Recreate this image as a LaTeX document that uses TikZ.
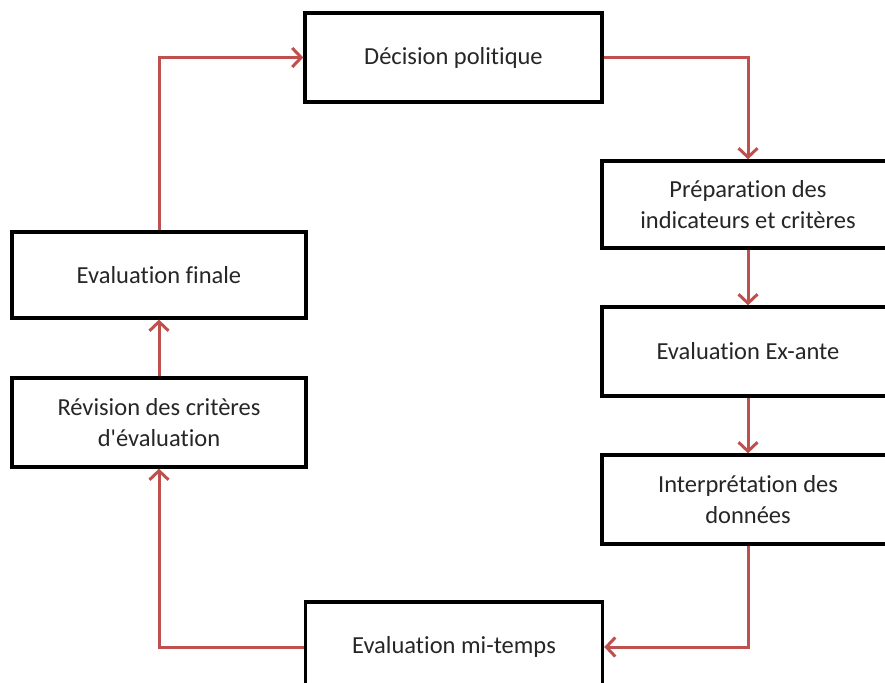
\documentclass[tikz,border=0pt]{standalone}
\usepackage{fontspec}
\setmainfont{Carlito}[Ligatures={TeXOff,CommonOff}]
\usetikzlibrary{arrows.meta}
\definecolor{arrowred}{RGB}{192,80,77}

\begin{document}
\begin{tikzpicture}[x=1pt,y=-1pt,
        box/.style={draw,line width=3.4pt,align=center,text=black!85,
            font=\fontsize{24.5}{31}\selectfont,inner sep=0pt},
        wide/.style={box,minimum width=297pt},
        flow/.style={draw=arrowred,line width=3pt,
            -{Straight Barb[length=9pt,width=19pt,line width=3pt]}}]

    \clip (0,0) rectangle (885,682);
    \fill[white] (0,0) rectangle (885,682);

    \node[wide,minimum height=89pt] (dec) at (453.5,57.5) {Décision politique};
    \node[box,minimum width=292pt,minimum height=87pt] (prep) at (748,204.5)
        {Préparation des\\indicateurs et critères};
    \node[box,minimum width=292pt,minimum height=89pt] (exante) at (748,351.5)
        {Evaluation Ex-ante};
    \node[box,minimum width=292pt,minimum height=89pt] (interp) at (748,499.5)
        {Interprétation des\\données};
    \node[wide,minimum height=90pt] (mitemps) at (454,647) {Evaluation mi-temps};
    \node[box,minimum width=294pt,minimum height=86pt] (finale) at (159,275)
        {Evaluation finale};
    \node[box,minimum width=294pt,minimum height=89pt] (revis) at (159,422.5)
        {Révision des critères\\d'évaluation};

    \draw[flow] (dec.east) -| (prep.north);
    \draw[flow] (prep) -- (exante);
    \draw[flow] (exante) -- (interp);
    \draw[flow] (interp.south) |- (mitemps.east);
    \draw[flow] (mitemps.west) -| (revis.south);
    \draw[flow] (revis) -- (finale);
    \draw[flow] (finale.north) |- (dec.west);
\end{tikzpicture}
\end{document}
